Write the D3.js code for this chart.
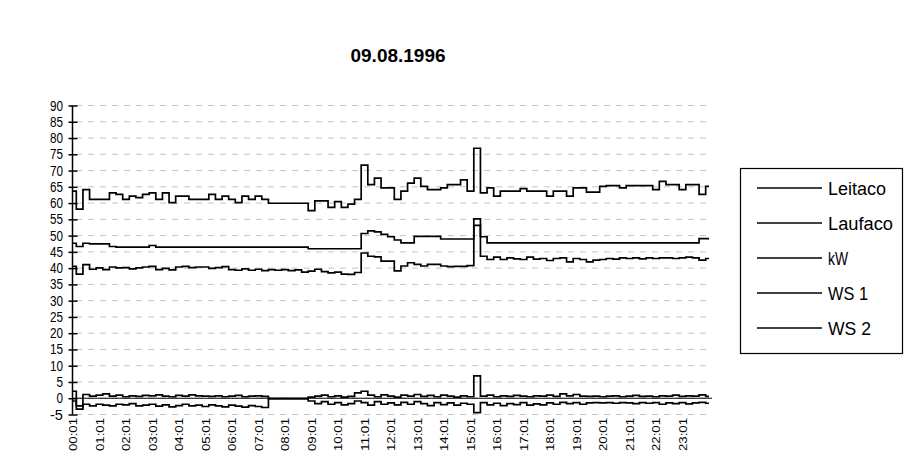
<!DOCTYPE html>
<meta charset="utf-8">
<style>
    body { margin: 0; background: #fff; }
    svg { font-family: "Liberation Sans Narrow", "Liberation Sans", Arial, sans-serif; }
    .grid line { stroke: #c4c4c4; stroke-dasharray: 6 6; stroke-width: 1; }
    .series path { fill: none; stroke: #000; stroke-width: 1.7; }
</style>
<svg width="920" height="475"></svg>
<script src="https://cdn.jsdelivr.net/npm/d3@7"></script>
<script>
    // samples every 15 minutes, starting at 00:01
    var stepMinutes = 15

    var hourLabels = ["00:01","01:01","02:01","03:01","04:01","05:01","06:01","07:01",
        "08:01","09:01","10:01","11:01","12:01","13:01","14:01","15:01",
        "16:01","17:01","18:01","19:01","20:01","21:01","22:01","23:01"]

    var yTicks = [90,85,80,75,70,65,60,55,50,45,40,35,30,25,20,15,10,5,0,-5]

    var seriesNames = ["Leitaco", "Laufaco", "kW", "WS 1", "WS 2"]

    var leitaco = [63.5,58,64,61,61,61,63,62.5,61,62,61.5,62.5,63,61,63,60,62,62,61,61,
        61,62.5,61,62,61,60,62,61,62,61,59.8,59.8,59.8,59.8,59.8,59.8,57.5,60.5,60.5,58.5,
        60.3,58.5,59.5,61,71.5,65.5,67.5,64.5,64.5,61,63.5,66,67.5,65,64,64,64.5,65.5,65.5,67,
        63.5,76.7,63,64.5,62,63.5,63.5,63.5,64.3,63.5,63.5,63.5,62,63.5,63.5,62,64.5,64.5,63.2,63.2,
        65,65.2,65.2,64.5,65.2,65.2,65.2,65.2,64,66.5,65.5,65.5,64,65.5,65.5,62.5,65]

    var laufaco = [47.5,46.5,47.5,47.3,47.3,47.3,46.5,46.3,46.3,46.3,46.3,46.3,46.8,46.3,46.3,46.3,46.3,46.3,46.3,46.3,
        46.3,46.3,46.3,46.3,46.3,46.3,46.3,46.3,46.3,46.3,46.3,46.3,46.3,46.3,46.3,46.3,45.8,45.8,45.8,45.8,
        45.8,45.8,45.8,45.8,50.5,51.3,51,50.2,49.5,48.5,47.6,47.6,49.6,49.6,49.6,49.6,48.8,48.8,48.8,48.8,
        48.8,55,49.5,47.6,47.6,47.6,47.6,47.6,47.6,47.6,47.6,47.6,47.6,47.6,47.6,47.6,47.6,47.6,47.6,47.6,
        47.6,47.6,47.6,47.6,47.6,47.6,47.6,47.6,47.6,47.6,47.6,47.6,47.6,47.6,47.6,48.9,48.9]

    var kw = [40.4,38,40.9,39.5,39.9,39.4,40.2,39.9,40,39.6,39.9,40.2,40.4,39.4,39.8,39.3,40.2,40.4,40,40.2,
        40.2,39.8,40,40.3,39.4,39.2,39.6,39.2,39.5,39.1,39.4,39.2,39.4,39.1,39.3,38.6,38.9,39.5,38.8,38.4,
        38.6,38,37.9,38.5,44.5,43.5,43.3,42,42,39,40.5,41.5,41,40.5,41,41,40.5,40.3,40.4,40.4,
        40.6,53,43.5,42.5,43.2,42.5,43,42.7,42.5,43.2,42.6,42.8,42.2,42.8,43,41.8,42.8,42.5,41.8,42.3,
        42.5,42.8,42.6,43,42.8,43,42.7,43,42.8,43,43,42.8,43,43.2,43,42.3,42.8]

    var ws1 = [2,-2.5,1,0.5,0.8,1.2,0.5,0.8,0.3,0.6,0.4,0.7,0.6,0.9,0.5,0.3,0.7,0.5,0.9,0.6,
        0.5,0.4,0.6,0.3,0.5,0.7,0.3,0.5,0.6,0.4,-0.3,-0.3,-0.3,-0.3,-0.3,-0.3,0.2,0.5,0.8,0.3,
        0.6,0.2,0.4,1.5,2,0.8,0.3,0.9,0.5,0.2,0.8,0.5,1,0.4,0.7,0.3,0.8,0.5,0.2,0.6,
        0.3,6.7,0.5,0.8,0.3,0.6,0.4,0.7,0.5,0.3,0.6,0.5,0.8,0.4,1.2,0.6,1,0.5,0.4,0.5,
        0.3,0.5,0.6,0.3,0.5,0.7,0.4,0.5,0.3,0.6,0.5,0.8,0.4,0.6,0.5,0.9,0.4]

    var ws2 = [-1,-3.5,-2,-2.5,-2,-2.3,-2.5,-2,-2.2,-1.8,-2.5,-2.3,-2,-2.6,-2.2,-2.8,-2.4,-2,-2.5,-2.3,
        -2.7,-2.2,-2.5,-2.8,-2.3,-2.6,-2.9,-2.4,-2.7,-3,-0.3,-0.3,-0.3,-0.3,-0.3,-0.3,-1,-1.8,-1.2,-2,
        -1.5,-2.2,-1.8,-1,-1.5,-2.3,-1.2,-2,-1.6,-2.2,-1.4,-2,-1.2,-1.8,-2.4,-1.5,-2.1,-1.6,-2.3,-1.7,
        -2,-4.6,-1.5,-2.2,-1.7,-2.4,-1.8,-2.1,-1.5,-2.3,-1.9,-2.2,-1.6,-2,-1.4,-1.8,-1.5,-2,-1.6,-1.5,
        -1.6,-1.5,-1.7,-1.5,-1.6,-1.8,-1.5,-1.7,-1.5,-2,-1.6,-1.8,-1.5,-1.9,-1.6,-1.4,-1.7]

    var allSeries = [leitaco, laufaco, kw, ws1, ws2]

    var svg = d3.select("svg")

    var x = d3.scaleLinear().domain([0, 1440]).range([73, 709])
    var y = d3.scaleLinear().domain([-5, 90]).range([414, 105])
    var plotLeft = 72, plotRight = 712

    // title
    svg.append("text")
        .attr("x", 398).attr("y", 62)
        .attr("text-anchor", "middle")
        .attr("font-family", "Liberation Sans, Arial, sans-serif")
        .attr("font-weight", "bold")
        .attr("font-size", 19)
        .attr("textLength", 95)
        .attr("lengthAdjust", "spacingAndGlyphs")
        .text("09.08.1996")

    // dashed grid
    svg.append("g")
        .attr("class", "grid")
        .selectAll("line")
        .data(yTicks)
        .enter().append("line")
        .attr("x1", plotLeft + 4).attr("x2", plotRight)
        .attr("y1", function(d) { return y(d) + 0.5 })
        .attr("y2", function(d) { return y(d) + 0.5 })

    // y axis with crossing ticks
    var yAxis = svg.append("g")
        .attr("transform", "translate(" + (plotLeft + 0.5) + ",0.5)")
        .call(d3.axisLeft(y).tickValues(yTicks).tickSize(4).tickFormat(""))
    yAxis.select(".domain").attr("d", "M0," + y(90) + "V" + y(-5)).attr("stroke", "#000").attr("stroke-width", 1.5)
    yAxis.selectAll(".tick line").attr("x1", -4).attr("x2", 5).attr("stroke", "#000").attr("stroke-width", 1.5)

    svg.append("g")
        .selectAll("text")
        .data(yTicks)
        .enter().append("text")
        .attr("x", 63)
        .attr("y", function(d) { return y(d) + 5.5 })
        .attr("text-anchor", "end")
        .attr("font-size", 14)
        .attr("textLength", function(d) { return String(d).length * 6.5 })
        .attr("lengthAdjust", "spacingAndGlyphs")
        .text(function(d) { return d })

    // category axis line at 0
    svg.append("line")
        .attr("x1", plotLeft).attr("x2", plotRight)
        .attr("y1", y(0) + 0.5).attr("y2", y(0) + 0.5)
        .attr("stroke", "#000").attr("stroke-width", 1)

    // hour labels, rotated
    var xAxis = svg.append("g")
        .attr("transform", "translate(0," + y(-5) + ")")
        .call(d3.axisBottom(x)
            .tickValues(hourLabels.map(function(d, i) { return i * 60 }))
            .tickSize(0)
            .tickFormat(function(d) { return hourLabels[d / 60] }))
    xAxis.select(".domain").remove()
    xAxis.selectAll("text")
        .attr("transform", "rotate(-90)")
        .attr("x", -4).attr("y", 0).attr("dy", "0.36em")
        .attr("text-anchor", "end")
        .attr("font-size", 10)
        .attr("font-family", "Liberation Sans, Arial, sans-serif")
        .attr("textLength", 33)
        .attr("lengthAdjust", "spacingAndGlyphs")
        .attr("fill", "#000")

    // series lines
    var line = d3.line()
        .x(function(d, i) { return x(i * stepMinutes) })
        .y(function(d) { return y(d) })
        .curve(d3.curveStep)

    svg.append("g")
        .attr("class", "series")
        .selectAll("path")
        .data(allSeries)
        .enter().append("path")
        .attr("d", line)

    // legend
    var legend = svg.append("g")
    legend.append("rect")
        .attr("x", 740.5).attr("y", 168.5)
        .attr("width", 162).attr("height", 185)
        .attr("fill", "#fff").attr("stroke", "#000").attr("stroke-width", 1.2)

    var legendWidths = [58, 65, 20, 40, 43]
    var item = legend.selectAll(".item")
        .data(seriesNames)
        .enter().append("g")
        .attr("class", "item")
        .attr("transform", function(d, i) { return "translate(0," + (188 + i * 35) + ")" })
    item.append("line")
        .attr("x1", 757).attr("x2", 822)
        .attr("stroke", "#000").attr("stroke-width", 1.6)
    item.append("text")
        .attr("x", 828).attr("y", 7)
        .attr("font-size", 18)
        .attr("textLength", function(d, i) { return legendWidths[i] })
        .attr("lengthAdjust", "spacingAndGlyphs")
        .text(function(d) { return d })
</script>
